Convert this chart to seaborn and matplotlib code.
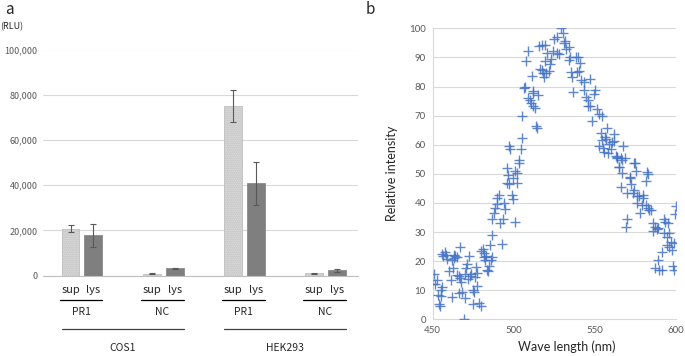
import matplotlib
matplotlib.use("Agg")
import numpy as np
import pandas as pd
import matplotlib.pyplot as plt
import matplotlib.transforms as mtransforms
from matplotlib.lines import Line2D
from matplotlib.ticker import FuncFormatter, MultipleLocator
import seaborn as sns

# ---------- panel a: luciferase activity ----------
groups = ["COS1 PR1", "COS1 NC", "HEK293 PR1", "HEK293 NC"]
cells = ["COS1", "HEK293"]
constructs = ["PR1", "NC", "PR1", "NC"]
fractions = ["sup", "lys"]
sup_mean = [20700, 900, 75000, 1000]
sup_err = [1600, 200, 7200, 400]
lys_mean = [17800, 3200, 40800, 2300]
lys_err = [5000, 150, 9500, 800]

# ---------- panel b: emission spectrum ----------
wave = [450.8, 449.8, 451.4, 452.4, 453.3, 453.7, 454.5, 455.1, 455.8, 454.9, 457.4, 456.6, 458.2,
        459.0, 460.0, 461.0, 461.6, 462.0, 463.4, 463.8, 465.0, 462.3, 464.8, 466.0, 466.9, 466.9,
        467.5, 467.9, 469.7, 469.1, 470.5, 471.4, 472.2, 471.8, 473.0, 474.7, 474.7, 475.5, 476.1,
        476.5, 477.1, 477.5, 478.6, 479.6, 479.8, 480.8, 481.6, 481.6, 482.7, 482.3, 483.3, 484.0,
        484.5, 485.3, 485.8, 486.4, 486.8, 486.8, 487.6, 488.4, 489.5, 489.9, 491.1, 491.7, 492.5,
        493.2, 494.0, 494.8, 495.6, 497.3, 498.7, 499.7, 500.6, 502.2, 456.0, 463.0, 470.0, 466.5,
        473.5,
        496.0, 496.5, 497.0, 497.5, 499.3, 501.0, 501.8, 503.0, 503.5, 504.5, 505.0, 505.3, 506.3,
        506.7, 507.7, 508.6, 508.6, 510.0, 510.4, 511.6, 513.1, 511.0, 511.6, 511.9, 515.0, 513.5,
        514.0, 515.6, 517.6, 519.3, 516.2, 517.2, 518.2, 518.8, 519.9, 521.5, 519.5, 520.3, 522.3,
        522.7, 524.0, 525.0, 526.4, 526.9, 528.1, 529.0, 530.1, 530.9, 532.2, 531.6, 533.8, 534.0,
        534.9, 535.5, 535.7, 536.7, 538.4, 539.6, 540.6, 538.8, 540.4, 541.4, 543.1, 547.0, 543.3,
        544.3, 546.0, 545.6, 546.8, 548.4, 550.0, 549.5, 551.5, 552.7, 554.2, 552.7, 553.7, 554.5,
        556.2, 556.8, 557.5, 555.0, 555.5, 558.3, 558.9, 559.7, 560.7, 561.8, 561.8, 562.8, 563.4,
        565.9, 567.5, 566.9, 565.0, 566.5, 571.7, 574.5, 575.1, 582.0, 582.8, 563.8, 568.4, 564.9,
        574.1, 571.6,
        565.9, 569.6, 572.1, 573.3, 574.3, 575.7, 576.2, 577.0, 577.8, 578.8, 579.5, 579.9, 581.5,
        581.5, 582.9, 583.5, 584.6, 569.6, 569.2, 585.6, 586.0, 587.2, 588.1, 588.7, 586.9, 589.1,
        589.7, 591.2, 591.4, 592.6, 593.5, 592.8, 594.2, 595.4, 594.6, 595.9, 596.7, 597.5, 598.4,
        598.8, 599.4, 600.0, 595.2, 599.0]
intensity = [15.5, 12.1, 12.3, 13.5, 8.2, 5.3, 4.6, 10.1, 11.2, 8.0, 23.2, 21.7, 22.1,
             20.8, 16.7, 13.5, 7.8, 20.3, 20.9, 21.7, 21.5, 17.6, 15.2, 14.9, 24.7, 14.1,
             12.9, 9.4, 7.4, 0.0, 17.8, 19.0, 21.7, 13.9, 14.9, 10.1, 5.3, 9.5, 14.4,
             18.1, 15.8, 11.4, 5.7, 4.6, 23.5, 24.0, 22.9, 21.3, 21.7, 20.3, 17.1, 16.7,
             18.3, 25.5, 20.3, 21.3, 29.0, 34.3, 36.6, 38.1, 39.5, 41.8, 42.6, 33.1, 25.8,
             34.5, 39.8, 37.8, 46.9, 46.4, 42.6, 41.5, 33.4, 46.9, 22.5, 22.0, 15.5, 9.0,
             15.5,
             52.1, 49.5, 59.5, 58.5, 48.4, 51.0, 50.4, 54.7, 53.6, 58.5, 62.4, 69.8, 79.6,
             80.0, 88.8, 92.3, 76.2, 75.3, 74.3, 73.3, 72.6, 83.6, 78.6, 77.6, 77.0, 66.4,
             65.6, 93.9, 94.4, 94.2, 86.1, 85.7, 84.5, 83.4, 84.8, 85.2, 88.9, 91.4, 87.7,
             89.3, 92.3, 96.2, 96.9, 91.6, 91.2, 100.0, 98.5, 94.8, 92.8, 95.8, 93.7, 89.1,
             90.3, 85.0, 83.4, 78.1, 90.0, 90.0, 88.2, 85.0, 85.4, 82.2, 81.5, 82.5, 78.7,
             76.3, 75.3, 73.3, 73.3, 68.2, 78.7, 77.4, 72.4, 70.5, 69.9, 59.5, 64.1, 61.6,
             62.5, 61.8, 65.9, 59.0, 57.6, 57.0, 60.4, 58.4, 60.8, 61.3, 63.8, 56.0, 55.3,
             55.5, 59.5, 54.6, 52.2, 50.3, 48.6, 53.6, 51.0, 50.7, 49.9, 55.9, 55.3, 52.4,
             53.8, 48.8,
             45.3, 43.4, 46.6, 43.4, 44.3, 42.3, 40.0, 42.5, 36.6, 39.2, 41.8, 42.7, 47.5,
             39.2, 38.4, 37.7, 37.7, 34.3, 31.8, 33.1, 30.4, 31.8, 30.9, 31.4, 17.8, 20.3,
             17.1, 17.1, 23.2, 34.6, 33.5, 29.5, 28.3, 29.7, 25.5, 24.9, 26.6, 23.8, 18.3,
             16.9, 36.3, 39.1, 33.1, 26.1]

sns.set_style("white")
plt.rcParams['font.family'] = ['Lato', 'DejaVu Sans']
jp_font = ['Noto Sans CJK JP', 'DejaVu Sans']
W, H = 685, 356

fig = plt.figure(figsize=(6.85, 3.56), dpi=100)
ax = fig.add_axes([43 / W, 1 - 275.7 / H, (358 - 43) / W, (275.7 - 49.5) / H])
ax2 = fig.add_axes([432.7 / W, 1 - 319.3 / H, (676 - 432.7) / W, (319.3 - 28.3) / H])

# bar chart
rows = []
for i, g in enumerate(groups):
    rows.append({"group": g, "fraction": "sup", "value": sup_mean[i]})
    rows.append({"group": g, "fraction": "lys", "value": lys_mean[i]})
df = pd.DataFrame(rows)

sns.barplot(data=df, x="group", y="value", hue="fraction", order=groups,
            hue_order=fractions, palette={"sup": "#e4e4e4", "lys": "#7f7f7f"},
            errorbar=None, width=0.565, gap=0.22, legend=False, ax=ax, zorder=2)

sup_bars, lys_bars = ax.containers[0], ax.containers[1]
for bar in sup_bars:
    bar.set_hatch("........")
    bar.set_edgecolor("#b8b8b8")
    bar.set_linewidth(0.5)
for bar in lys_bars:
    bar.set_edgecolor("#7f7f7f")
    bar.set_linewidth(0.5)

for bars, means, errs in [(sup_bars, sup_mean, sup_err), (lys_bars, lys_mean, lys_err)]:
    xs = [b.get_x() + b.get_width() / 2 for b in bars]
    ax.errorbar(xs, means, yerr=errs, fmt="none", ecolor="#595959",
                elinewidth=0.8, capsize=2.5, capthick=0.8, zorder=3)

ax.set_xlim(-0.48, 3.4)
ax.set_ylim(0, 100000)
ax.yaxis.set_major_locator(MultipleLocator(20000))
ax.yaxis.set_major_formatter(FuncFormatter(lambda v, p: f"{int(v):,}"))
ax.set_xticks([])
ax.set_xlabel("")
ax.set_ylabel("")
ax.grid(axis="y", color="#d9d9d9", linewidth=0.8, zorder=0)
ax.set_axisbelow(True)
for s in ["top", "right", "left"]:
    ax.spines[s].set_visible(False)
ax.spines["bottom"].set_color("#bfbfbf")
ax.spines["bottom"].set_linewidth(0.8)
ax.tick_params(axis="y", length=0, pad=4, labelsize=6.5, labelcolor="#595959")
for lab in ax.get_yticklabels():
    lab.set_family(jp_font)

# category labels under the bars
tr = mtransforms.blended_transform_factory(ax.transData, fig.transFigure)
for i in range(len(groups)):
    sb, lb = sup_bars[i], lys_bars[i]
    xs = sb.get_x() + sb.get_width() / 2
    xl = lb.get_x() + lb.get_width() / 2
    fig.text(xs, 1 - 293 / H, "sup", transform=tr, ha="center", va="baseline",
             fontsize=8, family=jp_font)
    fig.text(xl, 1 - 293 / H, "lys", transform=tr, ha="center", va="baseline",
             fontsize=8, family=jp_font)
    x0, x1 = sb.get_x() - 0.02, lb.get_x() + lb.get_width()
    fig.add_artist(Line2D([x0, x1], [1 - 300 / H] * 2, transform=tr, color="black", lw=0.9))
    fig.text((x0 + x1) / 2, 1 - 312 / H, constructs[i], transform=tr, ha="center", va="center",
             fontsize=7.5, family=jp_font)

for j, cell in enumerate(cells):
    first, last = sup_bars[2 * j], lys_bars[2 * j + 1]
    x0, x1 = first.get_x(), last.get_x() + last.get_width()
    fig.add_artist(Line2D([x0, x1], [1 - 328.5 / H] * 2, transform=tr, color="#404040", lw=0.9))
    fig.text((x0 + x1) / 2, 1 - 348 / H, cell, transform=tr, ha="center", va="center",
             fontsize=7.5, family=jp_font)

fig.text(0 / W, 1 - 27 / H, "(RLU)", ha="left", va="center", fontsize=6.5, family=jp_font)
fig.text(5 / W, 1 - 9 / H, "a", ha="left", va="center", fontsize=11, family=jp_font)

# scatter
sns.scatterplot(x=wave, y=intensity, marker="+", color="#4472c4", s=42, linewidth=1.0,
                alpha=0.85, ax=ax2, zorder=3)
ax2.set_xlim(450, 600)
ax2.set_ylim(0, 100)
ax2.xaxis.set_major_locator(MultipleLocator(50))
ax2.yaxis.set_major_locator(MultipleLocator(10))
ax2.grid(axis="y", color="#d9d9d9", linewidth=0.8, zorder=0)
ax2.set_axisbelow(True)
for s in ["top", "right"]:
    ax2.spines[s].set_visible(False)
for s in ["left", "bottom"]:
    ax2.spines[s].set_color("#d9d9d9")
    ax2.spines[s].set_linewidth(0.8)
ax2.tick_params(length=0, labelsize=7, labelcolor="#595959", pad=5)
ax2.set_xlabel("Wave length (nm)", fontsize=9)
ax2.xaxis.set_label_coords(0.552, -0.072)
ax2.set_ylabel("Relative intensity", fontsize=9, labelpad=8)
fig.text(366 / W, 1 - 9 / H, "b", ha="left", va="center", fontsize=11, family=jp_font)

fig.savefig("out.png", dpi=100)
